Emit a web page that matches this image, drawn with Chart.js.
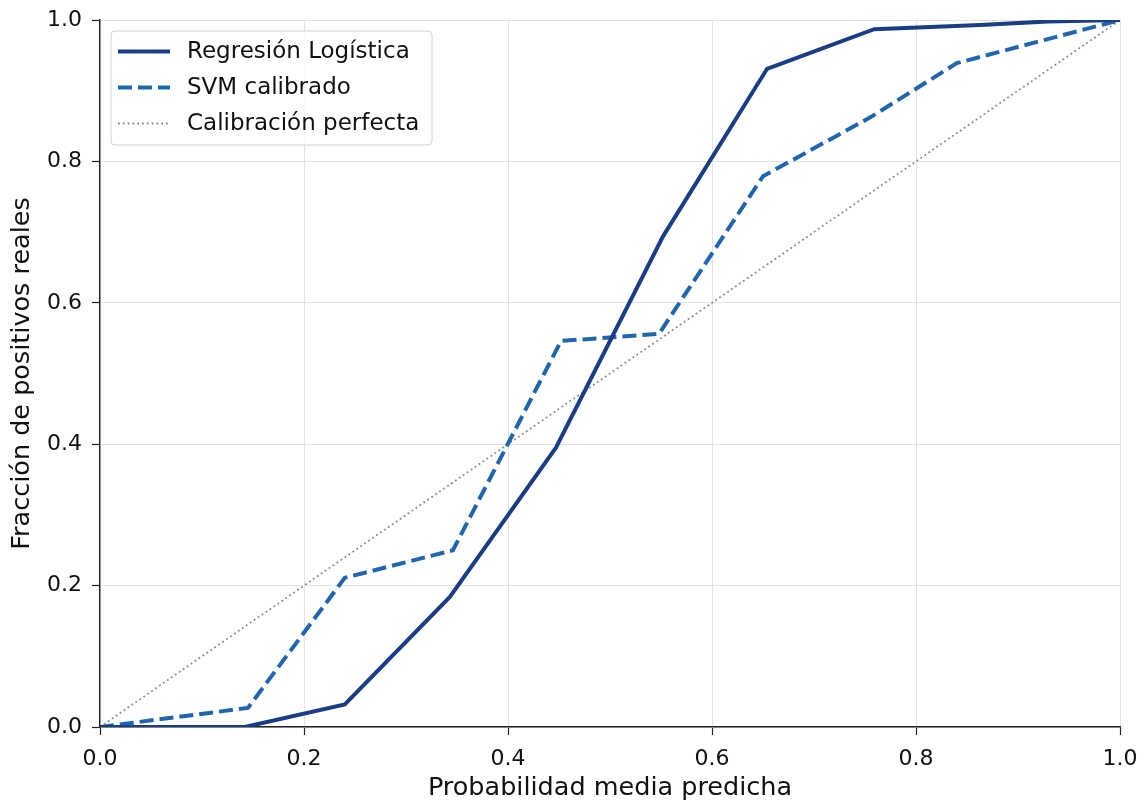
<!DOCTYPE html>
<html>
<head>
<meta charset="utf-8">
<script src="https://cdn.jsdelivr.net/npm/chart.js@4.4.1/dist/chart.umd.min.js"></script>
<style>
html,body{margin:0;padding:0;background:#fff;}
#wrap{width:1143px;height:801px;}
</style>
</head>
<body>
<div id="wrap"><canvas id="c" width="1143" height="801"></canvas></div>
<script>
const predLR = [0, 0.142, 0.240, 0.343, 0.447, 0.552, 0.654, 0.759, 0.863, 0.93, 1.0];
const fracLR = [0, 0.0, 0.032, 0.184, 0.395, 0.694, 0.931, 0.987, 0.993, 0.998, 1.0];
const predSVM = [0, 0.145, 0.240, 0.346, 0.452, 0.548, 0.650, 0.756, 0.840, 1.0];
const fracSVM = [0, 0.027, 0.211, 0.250, 0.546, 0.556, 0.779, 0.863, 0.939, 1.0];
const predDiag = [0, 1];
const fracDiag = [0, 1];
const tickValues = [0, 0.2, 0.4, 0.6, 0.8, 1.0];
const labels = ['Regresión Logística', 'SVM calibrado', 'Calibración perfecta'];
const xTitle = 'Probabilidad media predicha';
const yTitle = 'Fracción de positivos reales';

const toXY = (xs, ys) => xs.map((x, i) => ({x: x, y: ys[i]}));
const FONT = 'DejaVu Sans';

const legendPlugin = {
  id: 'insideLegend',
  afterDraw(chart) {
    const ctx = chart.ctx;
    const a = chart.chartArea;
    const x0 = a.left + 11, y0 = a.top + 11, w = 321, h = 114, r = 4;
    ctx.save();
    ctx.beginPath();
    ctx.moveTo(x0 + r, y0);
    ctx.arcTo(x0 + w, y0, x0 + w, y0 + h, r);
    ctx.arcTo(x0 + w, y0 + h, x0, y0 + h, r);
    ctx.arcTo(x0, y0 + h, x0, y0, r);
    ctx.arcTo(x0, y0, x0 + w, y0, r);
    ctx.closePath();
    ctx.fillStyle = 'rgba(255,255,255,0.85)';
    ctx.fill();
    ctx.strokeStyle = '#d0d0d0';
    ctx.lineWidth = 1;
    ctx.stroke();
    chart.data.datasets.forEach((ds, i) => {
      const cy = y0 + 20.5 + i * 36;
      ctx.beginPath();
      ctx.setLineDash(ds.borderDash || []);
      ctx.lineDashOffset = 0;
      ctx.strokeStyle = ds.borderColor;
      ctx.lineWidth = ds.borderWidth;
      ctx.lineCap = 'butt';
      ctx.moveTo(x0 + 7, cy);
      ctx.lineTo(x0 + 59, cy);
      ctx.stroke();
      ctx.setLineDash([]);
      ctx.fillStyle = '#111';
      ctx.font = '23px "' + FONT + '"';
      ctx.textBaseline = 'middle';
      ctx.textAlign = 'left';
      ctx.fillText(ds.label, x0 + 76, cy + 1);
    });
    ctx.restore();
  }
};

new Chart(document.getElementById('c'), {
  type: 'scatter',
  data: {
    datasets: [
      {label: labels[0], data: toXY(predLR, fracLR), showLine: true, borderColor: '#1a3e86', borderWidth: 4, pointRadius: 0, fill: false, tension: 0},
      {label: labels[1], data: toXY(predSVM, fracSVM), showLine: true, borderColor: '#1f66ae', borderWidth: 4, borderDash: [14, 6], pointRadius: 0, fill: false, tension: 0},
      {label: labels[2], data: toXY(predDiag, fracDiag), showLine: true, borderColor: '#8a8a8a', borderWidth: 1.8, borderDash: [1.8, 3], pointRadius: 0, fill: false, tension: 0}
    ]
  },
  options: {
    responsive: false,
    animation: false,
    devicePixelRatio: 1,
    layout: {padding: {left: 0, top: 20, right: 23, bottom: 0}},
    plugins: {legend: {display: false}, tooltip: {enabled: false}},
    scales: {
      x: {
        type: 'linear', min: 0, max: 1,
        afterFit(s) { s.height = 74; s.paddingLeft = 0; s.paddingRight = 0; },
        afterBuildTicks(s) { s.ticks = tickValues.map(v => ({value: v})); },
        ticks: {font: {family: FONT, size: 22}, color: '#111', padding: 11, maxRotation: 0, callback: v => Number(v).toFixed(1)},
        grid: {color: '#e3e3e3', lineWidth: 1, tickColor: '#222', tickLength: 8, tickWidth: 1.2},
        border: {display: true, color: '#222', width: 1.4},
        title: {display: true, text: xTitle, font: {family: FONT, size: 25.5, lineHeight: 1.0}, color: '#111', padding: {top: 0, bottom: 0}}
      },
      y: {
        type: 'linear', min: 0, max: 1,
        afterFit(s) { s.width = 100; s.paddingTop = 0; s.paddingBottom = 0; },
        afterBuildTicks(s) { s.ticks = tickValues.map(v => ({value: v})); },
        ticks: {font: {family: FONT, size: 22}, color: '#111', padding: 10, callback: v => Number(v).toFixed(1)},
        grid: {color: '#e3e3e3', lineWidth: 1, tickColor: '#222', tickLength: 8, tickWidth: 1.2},
        border: {display: true, color: '#222', width: 1.4},
        title: {display: true, text: yTitle, font: {family: FONT, size: 25.5}, color: '#111', padding: {top: 7, bottom: 4}}
      }
    }
  },
  plugins: [legendPlugin]
});
</script>
</body>
</html>
